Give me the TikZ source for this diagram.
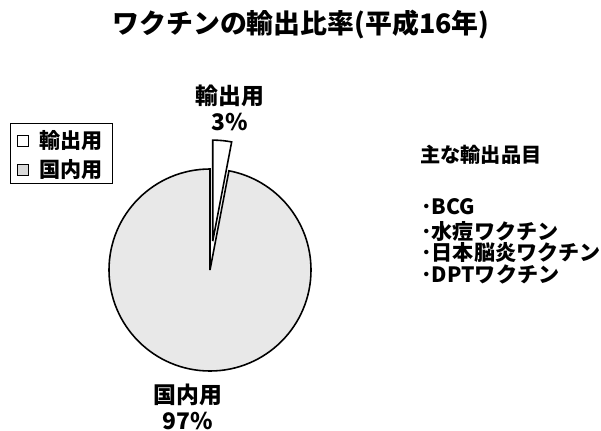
\documentclass[tikz,border=0pt]{standalone}
\usepackage{fontspec}
\setmainfont{Noto Sans CJK JP}

\begin{document}
\begin{tikzpicture}[x=0.02cm,y=0.02cm,
	titlefont/.style={font=\fontsize{15.3pt}{18pt}\selectfont\bfseries},
	pielabel/.style={font=\fontsize{13pt}{15pt}\selectfont\bfseries, align=center, inner sep=1pt},
	headtext/.style={font=\fontsize{11.5pt}{13pt}\selectfont\bfseries, anchor=west, inner sep=0pt},
	itemtext/.style={font=\fontsize{12pt}{13pt}\selectfont\bfseries, anchor=west, inner sep=0pt},
	legendtext/.style={font=\fontsize{12pt}{13pt}\selectfont\bfseries, anchor=west, inner sep=0pt},
	swatch/.style={draw, line width=0.7pt, minimum size=6.3pt, inner sep=0pt}]
	\useasboundingbox (0,0) rectangle (601,430);
	
	\node[titlefont] (title) at (301,405) {ワクチンの輸出比率(平成16年)};
	
	% pie, 3% slice pulled out
	\coordinate (c) at (210,160);
	\path (c) ++(84.6:29) coordinate (tip);
	\filldraw[fill=gray!18, line width=0.9pt] (c) -- +(90:101) arc[start angle=90, end angle=439.2, radius=101] -- cycle;
	\filldraw[fill=white, line width=0.9pt] (tip) -- +(90:101) arc[start angle=90, end angle=79.2, radius=101] -- cycle;
	
	\node[pielabel] (exp) at (230,322) {輸出用\\3\%};
	\node[pielabel] (dom) at (188,23) {国内用\\97\%};
	
	% legend
	\draw[line width=0.5pt] (10,247) rectangle (112,307);
	\node[swatch, fill=white] (sw1) at (23,289) {};
	\node[legendtext] (lg1) at (39,289) {輸出用};
	\node[swatch, fill=gray!30] (sw2) at (23,260) {};
	\node[legendtext] (lg2) at (39,260) {国内用};
	
	% main export items
	\node[headtext] (head) at (420,275) {主な輸出品目};
	\node[itemtext] (it1) at (421,223) {･BCG};
	\node[itemtext] (it2) at (421,199) {･水痘ワクチン};
	\node[itemtext] (it3) at (421,177) {･日本脳炎ワクチン};
	\node[itemtext] (it4) at (421,156) {･DPTワクチン};
\end{tikzpicture}
\end{document}
